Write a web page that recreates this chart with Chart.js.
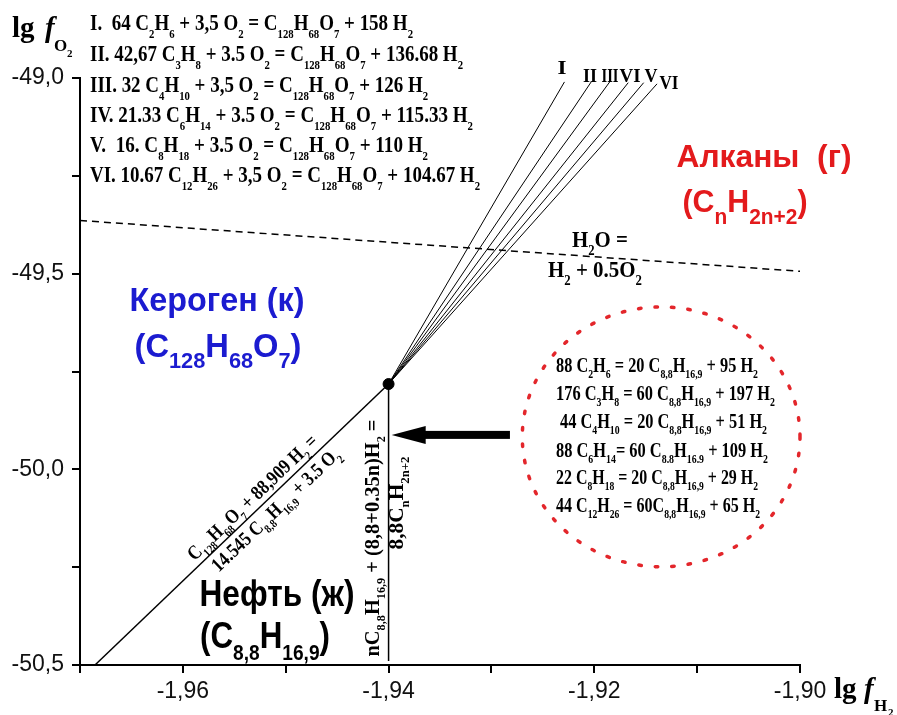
<!DOCTYPE html>
<html>
<head>
<meta charset="utf-8">
<script src="https://cdn.jsdelivr.net/npm/chart.js@4.4.0/dist/chart.umd.min.js"></script>
<style>
  body { margin: 0; background: #fff; }
  canvas { display: block; }
</style>
</head>
<body>
<canvas id="chart" width="897" height="715"></canvas>
<script>
// axis ranges
const xMin = -1.97, xMax = -1.90;
const yMin = -50.5, yMax = -49.0;

// triple point kerogen / oil / alkanes
const junctionX = -1.94;
const junctionY = -49.782;

// fan of kerogen/alkane lines I..VI (upper ends)
const fanLabels = ["I", "II", "III", "VI", "V", "VI"];
const fanTopX = [-1.9229, -1.9203, -1.9185, -1.9167, -1.9152, -1.9139];
const fanTopY = [-49.010, -49.010, -49.010, -49.012, -49.012, -49.015];

// kerogen / oil boundary
const oilX = [-1.96854, -1.94];
const oilY = [-50.5, -49.782];

// oil / alkanes boundary (vertical)
const alkX = [-1.94, -1.94];
const alkY = [-49.782, -50.49];

// H2O = H2 + 0.5 O2 (dashed)
const waterX = [-1.97, -1.90];
const waterY = [-49.364, -49.494];

// dotted ellipse around the oil->alkane reactions (centre, radii in data units)
const ringCentre = [-1.9135, -49.917];
const ringRadius = [0.0135, 0.332];

// arrow pointing at the vertical boundary
const arrowX = [-1.9282, -1.9397];
const arrowY = [-49.912, -49.912];

const eqTop = [
  "I.  64 C_{2}H_{6} + 3,5 O_{2} = C_{128}H_{68}O_{7} + 158 H_{2}",
  "II. 42,67 C_{3}H_{8} + 3.5 O_{2} = C_{128}H_{68}O_{7} + 136.68 H_{2}",
  "III. 32 C_{4}H_{10} + 3,5 O_{2} = C_{128}H_{68}O_{7} + 126 H_{2}",
  "IV. 21.33 C_{6}H_{14} + 3.5 O_{2} = C_{128}H_{68}O_{7} + 115.33 H_{2}",
  "V.  16. C_{8}H_{18} + 3.5 O_{2} = C_{128}H_{68}O_{7} + 110 H_{2}",
  "VI. 10.67 C_{12}H_{26} + 3,5 O_{2} = C_{128}H_{68}O_{7} + 104.67 H_{2}"
];
const eqTopW = [323, 373, 338, 383, 338, 390];

const eqRing = [
  "88 C_{2}H_{6} = 20 C_{8,8}H_{16,9} + 95 H_{2}",
  "176 C_{3}H_{8} = 60 C_{8,8}H_{16,9} + 197 H_{2}",
  "44 C_{4}H_{10} = 20 C_{8,8}H_{16,9} + 51 H_{2}",
  "88 C_{6}H_{14}= 60 C_{8.8}H_{16.9} + 109 H_{2}",
  "22 C_{8}H_{18} = 20 C_{8,8}H_{16,9} + 29 H_{2}",
  "44 C_{12}H_{26} = 60C_{8,8}H_{16,9} + 65 H_{2}"
];
const eqRingX = [556, 556, 560, 556, 556, 556];
const eqRingW = [202, 219, 207, 212, 202, 204];

const SERIF = '"Liberation Serif", "Times New Roman", serif';
const SANS = '"Liberation Sans", Arial, sans-serif';

// draws text with _{..} subscripts; o: size, sub, drop, family, weight, color, align, fit
function drawRich(ctx, str, x, y, o) {
  const size = o.size;
  const subSize = o.sub || Math.round(size * 0.62);
  const drop = o.drop != null ? o.drop : size * 0.35;
  const fam = o.family || SERIF;
  const wt = o.weight || "bold";
  const fN = `${wt} ${size}px ${fam}`;
  const fS = `${wt} ${subSize}px ${fam}`;
  const parts = [];
  str.split(/(_\{[^}]*\})/).forEach(s => {
    if (!s) return;
    if (s.startsWith("_{")) parts.push({ t: s.slice(2, -1), sub: true });
    else parts.push({ t: s, sub: false });
  });
  let w = 0;
  parts.forEach(p => {
    ctx.font = p.sub ? fS : fN;
    p.w = ctx.measureText(p.t).width;
    w += p.w;
  });
  const sx = o.fit ? o.fit / w : (o.sx || 1);
  ctx.save();
  ctx.translate(x, y);
  if (o.rot) ctx.rotate(o.rot);
  ctx.scale(sx, 1);
  let cx = o.align === "center" ? -w / 2 : o.align === "right" ? -w : 0;
  ctx.fillStyle = o.color || "#000";
  ctx.textAlign = "left";
  ctx.textBaseline = "alphabetic";
  parts.forEach(p => {
    ctx.font = p.sub ? fS : fN;
    ctx.fillText(p.t, cx, p.sub ? drop : 0);
    cx += p.w;
  });
  ctx.restore();
}

const notes = {
  id: "notes",
  afterDatasetsDraw(chart) {
    const ctx = chart.ctx;
    const xs = chart.scales.x, ys = chart.scales.y;
    const px = v => xs.getPixelForValue(v);
    const py = v => ys.getPixelForValue(v);

    // dotted ring
    ctx.save();
    ctx.strokeStyle = "#e3262b";
    ctx.lineWidth = 3.5;
    ctx.lineCap = "round";
    ctx.setLineDash([2.5, 14]);
    ctx.beginPath();
    const cxp = px(ringCentre[0]), cyp = py(ringCentre[1]);
    const rxp = px(ringCentre[0] + ringRadius[0]) - cxp;
    const ryp = py(ringCentre[1] - ringRadius[1]) - cyp;
    ctx.ellipse(cxp, cyp, rxp, ryp, 0, 0, Math.PI * 2);
    ctx.stroke();
    ctx.restore();

    // arrow
    const ax0 = px(arrowX[0]), ax1 = px(arrowX[1]), ay = py(arrowY[0]);
    ctx.save();
    ctx.fillStyle = "#000";
    ctx.fillRect(ax1 + 30, ay - 4, ax0 - ax1 - 30, 8);
    ctx.beginPath();
    ctx.moveTo(ax1, ay);
    ctx.lineTo(ax1 + 34, ay - 9);
    ctx.lineTo(ax1 + 34, ay + 9);
    ctx.closePath();
    ctx.fill();
    ctx.restore();

    // axis titles
    ctx.save();
    ctx.fillStyle = "#000";
    ctx.textBaseline = "alphabetic";
    ctx.font = `bold 29px ${SERIF}`;
    ctx.fillText("lg", 12, 37);
    ctx.font = `bold italic 29px ${SERIF}`;
    ctx.fillText("f", 45, 37);
    ctx.font = `bold 17px ${SERIF}`;
    ctx.fillText("O", 54, 51);
    ctx.font = `bold 11px ${SERIF}`;
    ctx.fillText("2", 67, 57);
    ctx.font = `bold 29px ${SERIF}`;
    ctx.fillText("lg", 834, 698);
    ctx.font = `bold italic 29px ${SERIF}`;
    ctx.fillText("f", 864, 698);
    ctx.font = `bold 17px ${SERIF}`;
    ctx.fillText("H", 874, 711);
    ctx.font = `bold 11px ${SERIF}`;
    ctx.fillText("2", 888, 716);
    ctx.restore();

    // reactions, top left
    const topBase = [30, 61, 92, 122, 152, 182];
    eqTop.forEach((s, i) => drawRich(ctx, s, 90, topBase[i], { size: 23, sub: 13, drop: 8, fit: eqTopW[i] }));

    // reactions inside the ring
    const ringBase = [372, 400, 428, 457, 484, 512];
    eqRing.forEach((s, i) => drawRich(ctx, s, eqRingX[i], ringBase[i], { size: 20, sub: 12, drop: 6, fit: eqRingW[i] }));

    // fan labels
    const labPos = [[562, 74], [590, 82], [610, 82], [630, 82], [651, 82], [669, 89]];
    const labW = [9, 14, 17, 21, 13, 19];
    fanLabels.forEach((l, i) => drawRich(ctx, l, labPos[i][0], labPos[i][1], { size: 19, align: "center", fit: labW[i] }));

    // water line label
    drawRich(ctx, "H_{2}O =", 600, 247, { size: 23, sub: 14, drop: 8, align: "center", fit: 56 });
    drawRich(ctx, "H_{2} + 0.5O_{2}", 595, 277, { size: 23, sub: 14, drop: 8, align: "center", fit: 94 });

    // field names
    drawRich(ctx, "Кероген (к)", 217, 311, { size: 33, family: SANS, color: "#1b1bd0", align: "center", fit: 175 });
    drawRich(ctx, "(C_{128}H_{68}O_{7})", 218, 357, { size: 33, sub: 22, drop: 11, family: SANS, color: "#1b1bd0", align: "center", fit: 167 });
    drawRich(ctx, "Алканы  (г)", 764, 167, { size: 32, family: SANS, color: "#e31a1c", align: "center", fit: 175 });
    drawRich(ctx, "(C_{n}H_{2n+2})", 745, 212, { size: 32, sub: 22, drop: 12, family: SANS, color: "#e31a1c", align: "center", fit: 125 });
    drawRich(ctx, "Нефть (ж)", 277, 606, { size: 36, family: SANS, color: "#000", align: "center", fit: 155 });
    drawRich(ctx, "(C_{8,8}H_{16,9})", 265, 648, { size: 36, sub: 22, drop: 12, family: SANS, color: "#000", align: "center", fit: 130 });

    // equation along the kerogen/oil line
    const x0 = px(oilX[0]), y0 = py(oilY[0]), x1 = px(oilX[1]), y1 = py(oilY[1]);
    const len = Math.hypot(x1 - x0, y1 - y0);
    const dx = (x1 - x0) / len, dy = (y1 - y0) / len;
    const nx = dy, ny = -dx;
    const ang = Math.atan2(y1 - y0, x1 - x0);
    const at = (t, off) => [x0 + (x1 - x0) * t + nx * off, y0 + (y1 - y0) * t + ny * off];
    let p = at(0.565, 6);
    drawRich(ctx, "C_{128}H_{68}O_{7} + 88,909 H_{2} =", p[0], p[1], { size: 20, sub: 12, drop: 6, align: "center", rot: ang, fit: 172 });
    p = at(0.585, -19);
    drawRich(ctx, "14.545 C_{8,8}H_{16,9} + 3.5 O_{2}", p[0], p[1], { size: 20, sub: 12, drop: 6, align: "center", rot: ang, fit: 169 });

    // equation along the vertical boundary
    const vx = px(alkX[0]);
    drawRich(ctx, "nC_{8,8}H_{16,9} + (8,8+0.35n)H_{2} =", vx - 10, 538, { size: 20, sub: 12, drop: 6, align: "center", rot: -Math.PI / 2, fit: 237 });
    drawRich(ctx, "8,8C_{n}H_{2n+2}", vx + 14, 503, { size: 20, sub: 12, drop: 6, align: "center", rot: -Math.PI / 2, fit: 93 });
  }
};

const line = (xs, ys, extra) => Object.assign({
  data: xs.map((x, i) => ({ x, y: ys[i] })),
  showLine: true,
  borderColor: "#000",
  borderWidth: 1.5,
  pointRadius: 0,
  clip: false
}, extra || {});

const datasets = [];
fanTopX.forEach((x, i) => datasets.push(line([junctionX, x], [junctionY, fanTopY[i]], { borderWidth: 1 })));
datasets.push(line(oilX, oilY));
datasets.push(line(alkX, alkY));
datasets.push(line(waterX, waterY, { borderDash: [7, 5] }));
datasets.push({
  data: [{ x: junctionX, y: junctionY }],
  showLine: false,
  pointRadius: 5.5,
  pointBackgroundColor: "#000",
  pointBorderColor: "#000"
});

const tickFont = { family: SANS, size: 23 };

new Chart(document.getElementById("chart"), {
  type: "scatter",
  data: { datasets },
  options: {
    responsive: false,
    animation: false,
    devicePixelRatio: 1,
    layout: { padding: { left: 0, top: 78, right: 97, bottom: 0 } },
    plugins: { legend: { display: false }, tooltip: { enabled: false } },
    scales: {
      x: {
        type: "linear",
        min: xMin,
        max: xMax,
        afterFit: s => { s.height = 50; },
        border: { display: true, color: "#000", width: 2 },
        grid: { display: true, drawOnChartArea: false, drawTicks: true, tickLength: 8, color: "#000", lineWidth: 2 },
        ticks: {
          stepSize: 0.01,
          color: "#111",
          font: tickFont,
          padding: 5,
          maxRotation: 0,
          autoSkip: false,
          callback: v => (Math.round(v * 100) % 2 === 0 ? v.toFixed(2).replace(".", ",") : "")
        }
      },
      y: {
        type: "linear",
        min: yMin,
        max: yMax,
        afterFit: s => { s.width = 80; },
        border: { display: true, color: "#000", width: 2 },
        grid: { display: true, drawOnChartArea: false, drawTicks: true, tickLength: 8, color: "#000", lineWidth: 2 },
        ticks: {
          stepSize: 0.25,
          color: "#111",
          font: tickFont,
          padding: 8,
          autoSkip: false,
          callback: v => (Math.round(v * 4) % 2 === 0 ? v.toFixed(1).replace(".", ",") : "")
        }
      }
    }
  },
  plugins: [notes]
});
</script>
</body>
</html>
